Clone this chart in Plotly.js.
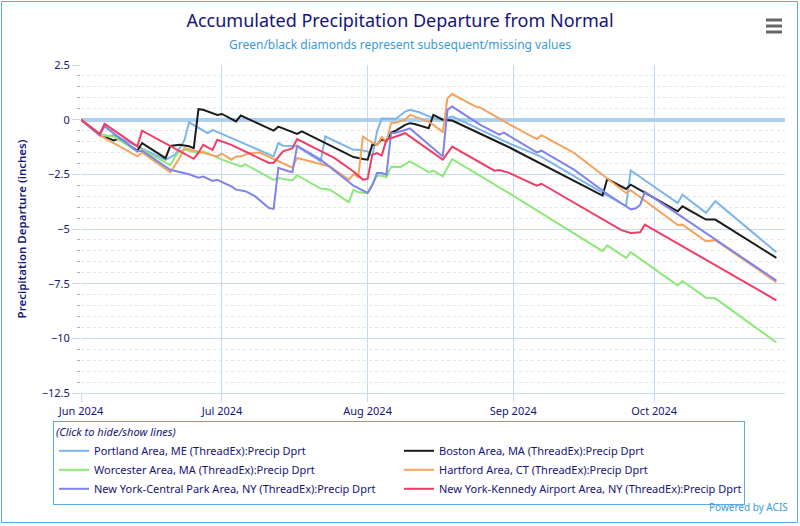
<!DOCTYPE html>
<html>
<head>
<meta charset="utf-8">
<script src="https://cdn.plot.ly/plotly-3.0.1.min.js"></script>
<style>
  html, body { margin: 0; padding: 0; background: #ffffff; }
  #chart { width: 800px; height: 526px; }
</style>
</head>
<body>
<div id="chart"></div>
<script>
// ---------------- DATA ----------------
const YEAR = '2024';
const seriesNames = [
  'Portland Area, ME (ThreadEx):Precip Dprt',
  'Boston Area, MA (ThreadEx):Precip Dprt',
  'Worcester Area, MA (ThreadEx):Precip Dprt',
  'Hartford Area, CT (ThreadEx):Precip Dprt',
  'New York-Central Park Area, NY (ThreadEx):Precip Dprt',
  'New York-Kennedy Airport Area, NY (ThreadEx):Precip Dprt'
];

const portlandDays = ['06-01','06-05','06-07','06-08','06-19','06-21','06-22','06-23','06-24','06-28','06-29','07-12','07-13','07-14','07-17','07-22','07-23','07-29','07-30','08-01','08-02','08-03','08-04','08-07','08-09','08-10','08-12','08-14','08-15','08-17','08-19','08-31','09-07','09-20','09-25','09-26','10-06','10-07','10-12','10-14','10-27'];
const portlandDprt = [0,-0.68,-0.75,-0.70,-1.84,-1.60,-1.30,-0.95,-0.12,-0.62,-0.47,-1.68,-1.07,-1.19,-1.22,-1.91,-0.77,-1.38,-1.38,-1.45,-1.68,-0.54,0.05,0.04,0.37,0.45,0.34,0.14,0.07,-0.02,0.15,-1.07,-1.70,-3.35,-3.96,-2.32,-3.81,-3.43,-4.26,-3.73,-6.06];

const bostonDays = ['06-01','06-05','06-08','06-09','06-13','06-14','06-19','06-20','06-22','06-24','06-25','06-26','06-27','06-29','06-30','07-01','07-04','07-05','07-12','07-13','07-17','07-18','07-29','07-31','08-01','08-02','08-03','08-04','08-05','08-06','08-07','08-09','08-10','08-11','08-14','08-15','08-16','08-17','08-19','08-31','09-20','09-21','09-25','09-26','10-06','10-07','10-12','10-14','10-27'];
const bostonDprt = [0,-0.70,-0.95,-0.88,-1.42,-1.07,-1.76,-1.20,-1.15,-1.22,-1.30,0.48,0.45,0.30,0.22,0.26,-0.08,0.19,-0.50,-0.32,-0.65,-0.54,-1.71,-1.80,-1.83,-1.14,-1.14,-0.89,-1.00,-0.59,-0.50,-0.24,-0.16,-0.20,-0.39,0.22,0.12,0.00,-0.04,-1.25,-3.47,-2.71,-3.17,-2.97,-4.19,-3.96,-4.57,-4.57,-6.32];

const worcesterDays = ['06-01','06-05','06-08','06-13','06-14','06-20','06-21','06-22','06-23','06-26','06-27','06-30','07-01','07-05','07-06','07-12','07-13','07-16','07-17','07-22','07-24','07-28','07-29','07-30','08-01','08-03','08-04','08-05','08-06','08-08','08-10','08-14','08-15','08-17','08-19','08-31','09-20','09-21','09-25','09-26','10-06','10-07','10-12','10-14','10-27'];
const worcesterDprt = [0,-0.70,-0.78,-1.45,-1.38,-2.08,-1.70,-1.45,-1.37,-1.53,-1.45,-1.75,-1.83,-2.14,-2.05,-2.75,-2.67,-2.78,-2.54,-3.15,-3.20,-3.77,-3.20,-3.32,-3.35,-2.56,-2.56,-2.63,-2.15,-2.16,-1.91,-2.40,-2.33,-2.59,-1.80,-3.35,-6.01,-5.75,-6.32,-6.06,-7.58,-7.38,-8.14,-8.17,-10.19];

const hartfordDays = ['06-01','06-05','06-13','06-14','06-20','06-21','06-22','06-23','06-25','06-27','06-30','07-01','07-03','07-04','07-05','07-06','07-07','07-09','07-16','07-17','07-20','07-24','07-28','07-29','07-30','07-31','08-01','08-03','08-04','08-05','08-06','08-07','08-09','08-10','08-11','08-14','08-17','08-18','08-19','08-24','08-25','08-31','09-06','09-07','09-14','09-21','09-25','09-26','10-06','10-07','10-12','10-14','10-27'];
const hartfordDprt = [0,-0.72,-1.68,-1.50,-2.41,-2.06,-1.74,-1.30,-1.41,-1.50,-1.68,-1.55,-1.83,-1.68,-1.68,-1.60,-1.53,-1.50,-2.20,-1.75,-1.91,-2.14,-2.74,-2.50,-2.62,-0.77,-0.92,-1.15,-0.80,-1.00,-0.16,-0.13,0.00,0.22,0.14,-0.09,-0.56,0.98,1.17,0.60,0.55,-0.19,-0.89,-0.71,-1.53,-2.67,-3.35,-3.23,-4.82,-4.80,-5.56,-5.51,-7.43];

const centralParkDays = ['06-01','06-05','06-06','06-13','06-14','06-20','06-24','06-26','06-27','06-29','06-30','07-03','07-04','07-06','07-08','07-11','07-12','07-13','07-15','07-16','07-17','07-22','07-29','08-01','08-02','08-03','08-04','08-05','08-06','08-07','08-09','08-10','08-17','08-18','08-19','08-25','08-29','08-30','09-06','09-07','09-14','09-21','09-25','09-26','09-27','09-28','09-29','10-27'];
const centralParkDprt = [0,-0.72,-0.30,-1.45,-1.42,-2.29,-2.50,-2.65,-2.60,-2.80,-2.75,-3.05,-3.20,-3.27,-3.50,-4.04,-4.08,-2.20,-2.35,-2.40,-1.20,-1.83,-3.02,-3.35,-3.00,-2.44,-2.44,-2.52,-0.62,-0.60,-0.47,-0.40,-1.68,0.45,0.60,-0.24,-0.69,-0.59,-1.50,-1.42,-2.30,-3.40,-3.96,-4.10,-4.06,-3.90,-3.30,-7.36];

const kennedyDays = ['06-01','06-05','06-06','06-13','06-14','06-25','06-26','06-27','06-29','06-30','07-03','07-11','07-12','07-14','07-15','07-16','07-17','07-25','07-29','07-31','08-01','08-02','08-03','08-04','08-05','08-06','08-09','08-17','08-19','08-28','08-29','08-31','09-06','09-07','09-22','09-24','09-26','09-28','09-29','10-27'];
const kennedyDprt = [0,-0.65,-0.19,-1.22,-0.50,-1.79,-1.51,-1.15,-1.38,-0.92,-1.15,-1.98,-1.97,-1.45,-1.38,-1.30,-0.89,-1.76,-2.37,-2.74,-2.71,-1.60,-1.53,-1.64,-0.92,-0.84,-0.62,-1.83,-1.23,-2.33,-2.30,-2.42,-3.02,-2.93,-4.80,-5.05,-5.18,-5.15,-4.80,-8.26];

const yTickVals = [2.5, 0, -2.5, -5, -7.5, -10, -12.5];

// ---------------- STYLE ----------------
const FONT = '"Noto Sans", "DejaVu Sans", sans-serif';
const NAVY = '#14147a';
const colors = ['#7cb5ec', '#1c1c1c', '#8ee87a', '#f7a35c', '#7f83ea', '#f03d66'];
const M = { l: 81, r: 15, t: 65, b: 133 };
const W = 800, H = 526;
const PW = W - M.l - M.r, PH = H - M.t - M.b;
const px = p => (p - M.l) / PW;          // pixel x -> paper x
const py = p => (M.t + PH - p) / PH;     // pixel y -> paper y

const daySets = [portlandDays, bostonDays, worcesterDays, hartfordDays, centralParkDays, kennedyDays];
const valSets = [portlandDprt, bostonDprt, worcesterDprt, hartfordDprt, centralParkDprt, kennedyDprt];

const traces = seriesNames.map((name, i) => ({
  type: 'scatter',
  mode: 'lines',
  name: name,
  x: daySets[i].map(d => YEAR + '-' + d),
  y: valSets[i],
  line: { color: colors[i], width: 2 },
  hoverinfo: 'x+y+name'
}));

const gridBlue = '#c3dcf2';

const layout = {
  width: W, height: H,
  margin: { l: M.l, r: M.r, t: M.t, b: M.b, autoexpand: false },
  paper_bgcolor: '#ffffff',
  plot_bgcolor: '#ffffff',
  font: { family: FONT, color: NAVY, size: 11 },
  showlegend: true,
  hovermode: 'closest',
  title: {
    text: 'Accumulated Precipitation Departure from Normal',
    font: { family: FONT, size: 18, color: NAVY },
    x: 0.5, xref: 'container', xanchor: 'center',
    y: 1 - 21 / H, yref: 'container', yanchor: 'middle'
  },
  xaxis: {
    type: 'date',
    range: ['2024-06-01', '2024-10-28 20:00'],
    tick0: '2024-06-01', dtick: 'M1', tickformat: '%b %Y',
    showgrid: true, gridcolor: gridBlue, gridwidth: 1,
    showline: true, linecolor: gridBlue, linewidth: 1,
    ticks: 'outside', ticklen: 8, tickcolor: gridBlue,
    tickfont: { family: FONT, size: 11, color: NAVY },
    zeroline: false, fixedrange: true
  },
  yaxis: {
    range: [-12.5, 2.5],
    tickmode: 'array', tickvals: yTickVals,
    ticktext: yTickVals.map(v => (v < 0 ? '\u2212' + Math.abs(v) : String(v))),
    showgrid: true, gridcolor: gridBlue, gridwidth: 1,
    showline: false,
    ticks: 'outside', ticklen: 8, tickcolor: gridBlue,
    tickfont: { family: FONT, size: 11, color: NAVY },
    zeroline: true, zerolinecolor: '#acd0ee', zerolinewidth: 4,
    minor: { dtick: 0.5, tick0: 0, showgrid: true, gridcolor: '#e4e4e4', griddash: 'dot', gridwidth: 1,
             ticks: 'outside', ticklen: 3, tickcolor: '#b0b0b0' },
    title: { text: 'Precipitation Departure (inches)', font: { family: FONT, size: 11.5, color: NAVY, weight: 600 }, standoff: 12 },
    fixedrange: true
  },
  legend: {
    orientation: 'h',
    x: px(53), xanchor: 'left',
    y: py(421), yanchor: 'top',
    bordercolor: '#5fa8e8', borderwidth: 1, bgcolor: 'rgba(255,255,255,0)',
    font: { family: FONT, size: 11, color: NAVY },
    entrywidth: 300, entrywidthmode: 'pixels',
    itemwidth: 30,
    title: { text: '(Click to hide/show lines)', side: 'top',
             font: { family: FONT, size: 11, color: NAVY, style: 'italic' } }
  },
  annotations: [
    { text: 'Green/black diamonds represent subsequent/missing values',
      xref: 'paper', yref: 'paper', x: px(400), y: py(45), xanchor: 'center', yanchor: 'middle',
      showarrow: false, font: { family: FONT, size: 12, color: '#3a9ad9' } },
    { text: 'Powered by ACIS',
      xref: 'paper', yref: 'paper', x: px(790), y: py(507), xanchor: 'right', yanchor: 'middle',
      showarrow: false, font: { family: FONT, size: 10, color: '#3a9ad9' } }
  ],
  shapes: [
    // outer chart frame
    { type: 'rect', xref: 'paper', yref: 'paper', x0: px(1.5), x1: px(797.5), y0: py(522.5), y1: py(1.5),
      line: { color: '#5fa8e8', width: 1 }, fillcolor: 'rgba(0,0,0,0)', layer: 'below' },
    // menu icon bars
    { type: 'rect', xref: 'paper', yref: 'paper', x0: px(766), x1: px(782), y0: py(21.5), y1: py(18.5),
      line: { width: 0 }, fillcolor: '#666666' },
    { type: 'rect', xref: 'paper', yref: 'paper', x0: px(766), x1: px(782), y0: py(27.5), y1: py(24.5),
      line: { width: 0 }, fillcolor: '#666666' },
    { type: 'rect', xref: 'paper', yref: 'paper', x0: px(766), x1: px(782), y0: py(33.5), y1: py(30.5),
      line: { width: 0 }, fillcolor: '#666666' }
  ]
};

Plotly.newPlot('chart', traces, layout, { displayModeBar: false, responsive: false });
</script>
</body>
</html>
